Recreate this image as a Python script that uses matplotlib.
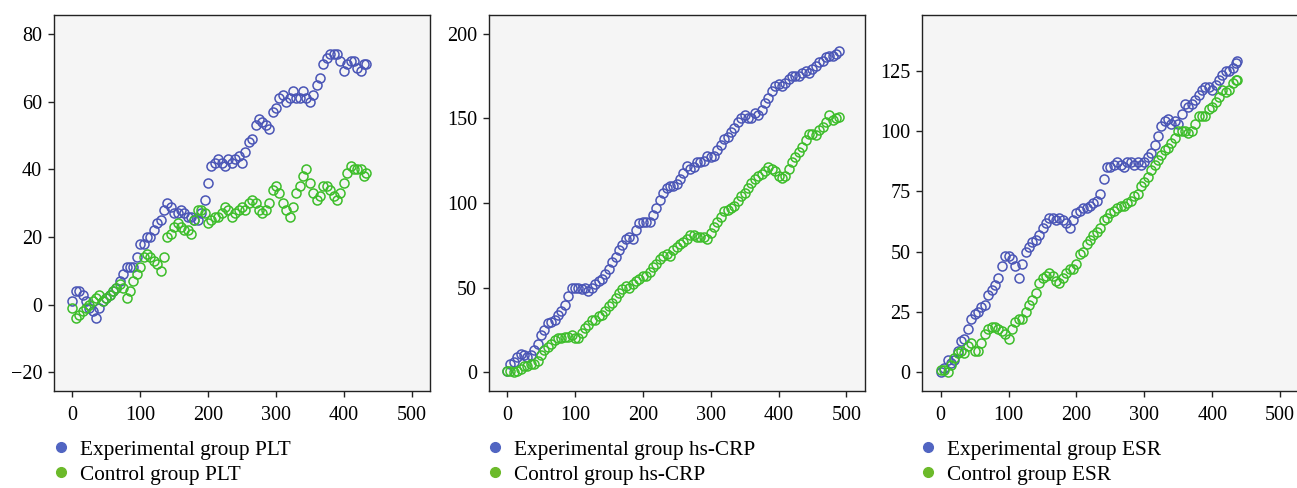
import matplotlib
matplotlib.use('Agg')
import matplotlib.pyplot as plt
from matplotlib.lines import Line2D

plt.rcParams['font.family'] = ['Liberation Serif', 'DejaVu Serif']

# values every 5 units of x
x_plt = list(range(0, 431, 5)) + [432]
exp_plt = [1, 4, 4, 3, 1, -1, -2, -4, -1, 1, 2, 3, 4, 5, 7, 9, 11, 11, 11, 14,
           18, 18, 20, 20, 22, 24, 25, 28, 30, 29, 27, 27, 28, 27, 26, 26, 25, 25, 27, 31,
           36, 41, 42, 43, 42, 41, 43, 42, 43, 44, 42, 45, 48, 49, 53, 55, 54, 53, 52, 57,
           58, 61, 62, 60, 61, 63, 61, 61, 63, 61, 60, 62, 65, 67, 71, 73, 74, 74, 74, 72,
           69, 71, 72, 72, 70, 69, 71, 71]
ctl_plt = [-1, -4, -3, -2, -1, 0, 1, 2, 3, 1, 2, 3, 4, 5, 6, 5, 2, 4, 7, 9,
           11, 14, 15, 14, 13, 12, 10, 14, 20, 21, 23, 24, 23, 22, 22, 21, 25, 28, 28, 27,
           24, 25, 26, 26, 27, 29, 28, 26, 27, 28, 29, 28, 30, 31, 30, 28, 27, 28, 30, 34,
           35, 33, 30, 28, 26, 29, 33, 35, 38, 40, 36, 33, 31, 32, 35, 35, 34, 32, 31, 33,
           36, 39, 41, 40, 40, 40, 38, 39]

x_crp = list(range(0, 486, 5)) + [489]
exp_crp = [1, 5, 6, 9, 11, 10, 9, 10, 13, 17, 22, 25, 29, 30, 31, 34, 36, 40, 45, 50,
           50, 50, 49, 50, 48, 50, 52, 54, 55, 58, 61, 65, 68, 72, 75, 79, 80, 79, 84, 88,
           89, 89, 89, 93, 97, 102, 106, 109, 110, 110, 111, 114, 118, 122, 120, 121, 124, 124, 125, 128,
           127, 128, 131, 134, 138, 139, 142, 144, 148, 150, 152, 150, 150, 153, 152, 155, 159, 162, 166, 169,
           170, 169, 171, 173, 175, 175, 175, 177, 178, 177, 179, 181, 183, 184, 186, 187, 187, 188, 190]
ctl_crp = [1, 1, 0, 1, 2, 4, 4, 5, 5, 7, 10, 13, 15, 17, 19, 20, 20, 21, 21, 22,
           20, 20, 23, 26, 28, 31, 31, 33, 34, 36, 39, 41, 44, 47, 49, 51, 50, 52, 54, 55,
           57, 57, 59, 62, 64, 67, 69, 70, 69, 72, 74, 76, 77, 79, 81, 81, 80, 80, 80, 79,
           82, 86, 89, 92, 95, 96, 97, 98, 101, 104, 106, 109, 112, 114, 116, 117, 119, 121, 120, 119,
           116, 115, 116, 120, 124, 127, 130, 133, 137, 141, 141, 140, 143, 145, 148, 152, 149, 150, 151]

x_esr = list(range(0, 436, 5)) + [436]
exp_esr = [0, 2, 5, 4, 5, 9, 13, 14, 18, 22, 24, 25, 27, 28, 32, 34, 36, 39, 44, 48,
           48, 47, 44, 39, 45, 50, 52, 54, 55, 57, 60, 62, 64, 64, 63, 64, 63, 62, 60, 63,
           66, 67, 68, 68, 69, 70, 71, 74, 80, 85, 85, 86, 87, 86, 85, 87, 87, 86, 87, 86,
           87, 89, 91, 94, 98, 102, 104, 105, 103, 104, 103, 107, 111, 110, 111, 113, 115, 117, 118, 118,
           117, 119, 121, 123, 125, 125, 126, 128, 129]
ctl_esr = [1, 1, 0, 3, 6, 8, 9, 8, 11, 12, 9, 9, 12, 16, 18, 19, 19, 18, 17, 16,
           14, 18, 21, 22, 22, 25, 28, 30, 33, 37, 39, 40, 41, 40, 38, 37, 39, 41, 43, 43,
           45, 49, 50, 53, 55, 57, 58, 60, 63, 64, 66, 67, 68, 69, 69, 70, 71, 73, 74, 77,
           79, 81, 84, 86, 88, 90, 92, 93, 95, 97, 100, 100, 100, 99, 100, 103, 106, 106, 106, 109,
           110, 112, 114, 117, 116, 117, 120, 121, 121]

panels = [
    (x_plt, exp_plt, ctl_plt, 'PLT', (-25.5, 85.6), [-20, 0, 20, 40, 60, 80]),
    (x_crp, exp_crp, ctl_crp, 'hs-CRP', (-11, 211), [0, 50, 100, 150, 200]),
    (x_esr, exp_esr, ctl_esr, 'ESR', (-7.7, 148), [0, 25, 50, 75, 100, 125]),
]
lefts = [54, 488.7, 922.4]
leg_lefts = [52.5, 486.8, 919.8]

blue = '#4a55b6'
green = '#3dbd2a'
blue_leg = '#5165c2'
green_leg = '#6cba2a'

W, H = 1297, 488
fig = plt.figure(figsize=(W / 100, H / 100), dpi=100)

for i, (xs, e, c, name, ylim, yt) in enumerate(panels):
    ax = fig.add_axes([lefts[i] / W, 1 - 391 / H, 376 / W, 376 / H])
    ax.set_facecolor('#f5f5f5')
    ax.plot(xs, e, linestyle='none', marker='o', ms=6.5, mfc='none', mec=blue, mew=1.1)
    ax.plot(xs, c, linestyle='none', marker='o', ms=6.5, mfc='none', mec=green, mew=1.1)
    ax.set_xlim(-27, 527)
    ax.set_ylim(*ylim)
    ax.set_xticks([0, 100, 200, 300, 400, 500])
    ax.set_yticks(yt)
    ax.tick_params(labelsize=14.5, length=4.5, width=1, color='#222222', pad=4)
    ax.tick_params(axis='x', pad=6)
    for s in ax.spines.values():
        s.set_color('#222222')
        s.set_linewidth(1)
    handles = [Line2D([], [], linestyle='none', marker='o', ms=7, color=blue_leg),
               Line2D([], [], linestyle='none', marker='o', ms=7, color=green_leg)]
    ax.legend(handles, ['Experimental group ' + name, 'Control group ' + name],
              loc='upper left', bbox_to_anchor=(leg_lefts[i] / W, 1 - 440 / H),
              bbox_transform=fig.transFigure, frameon=False, fontsize=15.3,
              handlelength=0.8, handletextpad=0.5, labelspacing=0.24,
              borderpad=0, borderaxespad=0)

fig.savefig('out.png', dpi=100)
